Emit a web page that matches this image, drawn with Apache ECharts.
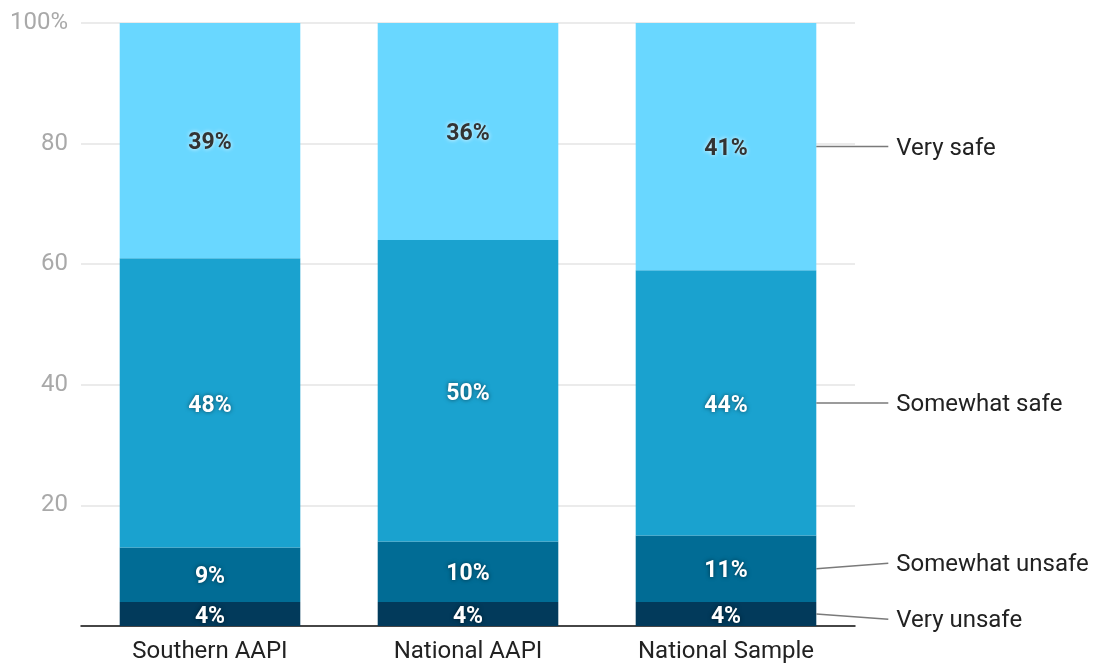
<!DOCTYPE html>
<html>
<head>
<meta charset="utf-8">
<script src="https://cdn.jsdelivr.net/npm/echarts@6/dist/echarts.min.js"></script>
<style>
  html, body { margin: 0; padding: 0; background: #fff; }
  #chart { width: 1094px; height: 664px; }
</style>
</head>
<body>
<div id="chart"></div>
<script>
var categories = ['Southern AAPI', 'National AAPI', 'National Sample'];
var seriesNames = ['Very unsafe', 'Somewhat unsafe', 'Somewhat safe', 'Very safe'];
var veryUnsafe = [4, 4, 4];
var somewhatUnsafe = [9, 10, 11];
var somewhatSafe = [48, 50, 44];
var verySafe = [39, 36, 41];
var yTicks = [0, 20, 40, 60, 80, 100];

var seriesValues = [veryUnsafe, somewhatUnsafe, somewhatSafe, verySafe];
var colors = ['#023a5b', '#016c95', '#1aa2cf', '#69d7ff'];

var chartDom = document.getElementById('chart');
var chart = echarts.init(chartDom);

// midpoints of each segment in the last bar, for the side labels
var lastIdx = categories.length - 1;
var mids = [];
var acc = 0;
for (var i = 0; i < seriesValues.length; i++) {
  var v = seriesValues[i][lastIdx];
  mids.push(acc + v / 2);
  acc += v;
}

var barSeries = [];
for (var i = 0; i < seriesValues.length; i++) {
  var dark = i === 3;
  barSeries.push({
    name: seriesNames[i],
    type: 'bar',
    stack: 'total',
    barWidth: '70%',
    itemStyle: { color: colors[i] },
    label: {
      show: true,
      position: 'inside',
      offset: [0, 3],
      formatter: '{c}%',
      fontFamily: 'Roboto',
      fontWeight: 'bold',
      fontSize: 23,
      color: dark ? '#333333' : '#ffffff',
      textShadowColor: dark ? 'rgba(255,255,255,0.9)' : 'rgba(0,0,0,0.55)',
      textShadowBlur: 4,
      textBorderWidth: 0
    },
    data: seriesValues[i]
  });
}

function spread(ys, gap) {
  var order = ys.map(function (y, k) { return k; }).sort(function (a, b) { return ys[a] - ys[b]; });
  var out = ys.slice();
  for (var it = 0; it < 10; it++) {
    for (var j = 1; j < order.length; j++) {
      var a = order[j - 1], b = order[j];
      if (out[b] - out[a] < gap) {
        var m = (out[a] + out[b]) / 2;
        out[a] = m - gap / 2;
        out[b] = m + gap / 2;
      }
    }
  }
  return out;
}

var sideLabels = {
  type: 'custom',
  coordinateSystem: 'cartesian2d',
  silent: true,
  z: 10,
  renderItem: function (params, api) {
    var idx = api.value(2);
    var p = api.coord([api.value(0), api.value(1)]);
    var half = api.size([1, 0])[0] * 0.35;
    var ys = mids.map(function (m) { return api.coord([lastIdx, m])[1]; });
    var ly = spread(ys, 56)[idx];
    var x0 = p[0] + half;
    return {
      type: 'group',
      children: [
        {
          type: 'polyline',
          shape: { points: [[x0, p[1]], [x0 + 72, ly]] },
          style: { stroke: '#7a7a7a', lineWidth: 1.5, fill: null }
        },
        {
          type: 'text',
          x: x0 + 80,
          y: ly + 2,
          style: {
            text: seriesNames[idx],
            fontFamily: 'Roboto',
            fontSize: 24,
            fill: '#222222',
            verticalAlign: 'middle',
            align: 'left'
          }
        }
      ]
    };
  },
  data: mids.map(function (m, k) { return [lastIdx, m, k]; })
};

var option = {
  animation: false,
  grid: { left: 81, right: 239, top: 23, bottom: 37 },
  xAxis: {
    type: 'category',
    data: categories,
    axisTick: { show: false },
    axisLine: { lineStyle: { color: '#111111', width: 1.5 } },
    axisLabel: {
      fontFamily: 'Roboto',
      fontSize: 24,
      color: '#222222',
      margin: 14
    }
  },
  yAxis: {
    type: 'value',
    min: yTicks[0],
    max: yTicks[yTicks.length - 1],
    interval: 20,
    axisLine: { show: false },
    axisTick: { show: false },
    splitLine: { lineStyle: { color: '#e4e4e4', width: 1.5 } },
    axisLabel: {
      fontFamily: 'Roboto',
      fontSize: 24,
      color: '#a9a9a9',
      margin: 13,
      formatter: function (v) {
        if (v === 0) return '';
        return v === 100 ? '100%' : String(v);
      }
    }
  },
  series: barSeries.concat([sideLabels])
};

chart.setOption(option);
</script>
</body>
</html>
